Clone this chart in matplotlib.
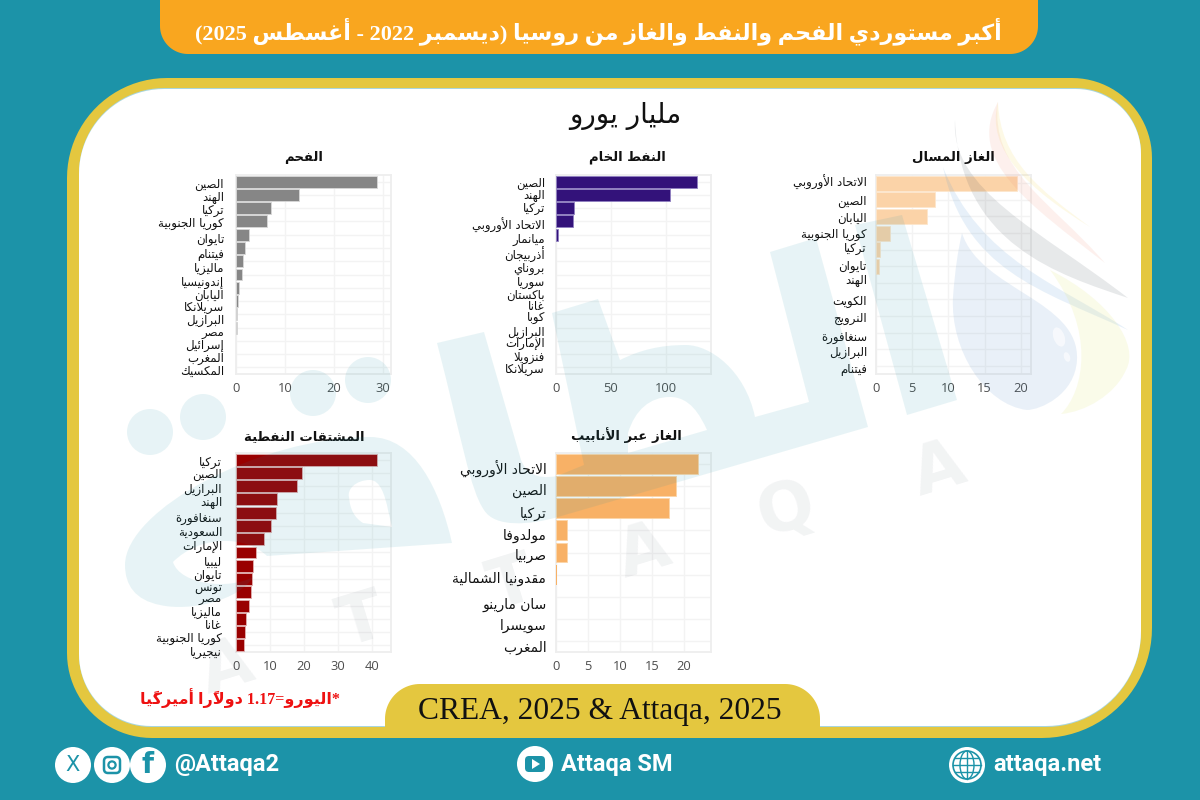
import matplotlib
matplotlib.use("Agg")
import matplotlib.pyplot as plt
from matplotlib.path import Path
from matplotlib.patches import PathPatch, Circle, Ellipse, Polygon, FancyBboxPatch
from matplotlib.transforms import Affine2D
import numpy as np

# ---------- data ----------
coal_countries = ["الصين","الهند","تركيا","كوريا الجنوبية","تايوان","فيتنام","ماليزيا","إندونيسيا","اليابان","سريلانكا","البرازيل","مصر","إسرائيل","المغرب","المكسيك"]
coal_values = [28.8,12.9,7.2,6.3,2.6,1.8,1.5,1.3,0.55,0.5,0.25,0.2,0.05,0.03,0.02]
crude_countries = ["الصين","الهند","تركيا","الاتحاد الأوروبي","ميانمار","أذربيجان","بروناي","سوريا","باكستان","غانا","كوبا","البرازيل","الإمارات","فنزويلا","سريلانكا"]
crude_values = [128,103.6,16,15.5,1.8,0.1,0.1,0.1,0.05,0.05,0.05,0.03,0.03,0.02,0.02]
lng_countries = ["الاتحاد الأوروبي","الصين","اليابان","كوريا الجنوبية","تركيا","تايوان","الهند","الكويت","النرويج","سنغافورة","البرازيل","فيتنام"]
lng_values = [19.5,8.15,7.0,2.0,0.55,0.35,0.05,0.02,0.02,0.02,0.01,0.01]
products_countries = ["تركيا","الصين","البرازيل","الهند","سنغافورة","السعودية","الإمارات","ليبيا","تايوان","تونس","مصر","ماليزيا","غانا","كوريا الجنوبية","نيجيريا"]
products_values = [41.7,19.6,18.1,12.1,11.7,10.3,8.4,5.8,5.0,4.6,4.3,3.7,3.0,2.6,2.4]
pipeline_countries = ["الاتحاد الأوروبي","الصين","تركيا","مولدوفا","صربيا","مقدونيا الشمالية","سان مارينو","سويسرا","المغرب"]
pipeline_values = [22.1,18.7,17.65,1.77,1.77,0.08,0.01,0.01,0.01]

main_title = "أكبر مستوردي الفحم والنفط والغاز من روسيا (ديسمبر 2022 - أغسطس 2025)"
unit_title = "مليار يورو"
note_text = "*اليورو=1.17 دولارًا أميركيًا"
source_text = "CREA, 2025 & Attaqa, 2025"

# ---------- simple Arabic shaping (matplotlib does not shape) ----------
_F = {'ء':(0xFE80,),'آ':(0xFE81,0xFE82),'أ':(0xFE83,0xFE84),'ؤ':(0xFE85,0xFE86),'إ':(0xFE87,0xFE88),
      'ا':(0xFE8D,0xFE8E),'ة':(0xFE93,0xFE94),'د':(0xFEA9,0xFEAA),'ذ':(0xFEAB,0xFEAC),'ر':(0xFEAD,0xFEAE),
      'ز':(0xFEAF,0xFEB0),'و':(0xFEED,0xFEEE),'ى':(0xFEEF,0xFEF0)}
for _c,_b in zip("ئبتثجحخسشصضطظعغفقكلمنهي",
                 [0xFE89,0xFE8F,0xFE95,0xFE99,0xFE9D,0xFEA1,0xFEA5,0xFEB1,0xFEB5,0xFEB9,0xFEBD,0xFEC1,0xFEC5,0xFEC9,0xFECD,0xFED1,0xFED5,0xFED9,0xFEDD,0xFEE1,0xFEE5,0xFEE9,0xFEF1]):
    _F[_c]=(_b,_b+1,_b+2,_b+3)
_LA = {'ا':(0xFEFB,0xFEFC),'أ':(0xFEF7,0xFEF8),'إ':(0xFEF9,0xFEFA),'آ':(0xFEF5,0xFEF6)}
_MARKS = "\u064B\u064C\u064D\u064E\u064F\u0650\u0651\u0652"
_MIRROR = {'(':')',')':'('}

def ar(s):
    cl=[]
    for ch in s:
        if ch in _MARKS and cl: cl[-1][1]+=ch
        else: cl.append([ch,""])
    out=[]; i=0
    prev_joins=False
    n=len(cl)
    while i<n:
        c,m=cl[i]
        if c in _F:
            if c=='ل' and i+1<n and cl[i+1][0] in _LA:
                f=_LA[cl[i+1][0]]
                out.append(chr(f[1] if prev_joins else f[0])+m+cl[i+1][1])
                prev_joins=False; i+=2; continue
            forms=_F[c]
            nxt=cl[i+1][0] if i+1<n else ''
            next_ok = nxt in _F and nxt!='ء'
            if len(forms)==4:
                if prev_joins and next_ok: g=forms[3]
                elif prev_joins: g=forms[1]
                elif next_ok: g=forms[2]
                else: g=forms[0]
                prev_joins=next_ok
            elif len(forms)==2:
                g=forms[1] if prev_joins else forms[0]
                prev_joins=False
            else:
                g=forms[0]; prev_joins=False
            out.append(chr(g)+m)
        else:
            out.append(_MIRROR.get(c,c)+m)
            prev_joins=False
        i+=1
    res=[]; run=[]
    for g in reversed(out):
        if g.isdigit() or (g=='.' and run):
            run.append(g)
        else:
            if run: res.extend(reversed(run)); run=[]
            res.append(g)
    if run: res.extend(reversed(run))
    return "".join(res)

# ---------- figure ----------
W,H=1200,800
TEAL="#1c93a8"; GOLD="#e4c73f"; ORANGE="#f9a61f"
fig=plt.figure(figsize=(W/100,H/100),dpi=100,facecolor=TEAL)

def layer(z):
    a=fig.add_axes([0,0,1,1],zorder=z)
    a.set_xlim(0,W); a.set_ylim(H,0); a.axis("off"); a.patch.set_alpha(0)
    return a

def round_rect(x0,y0,x1,y1,tl,tr,br,bl):
    def arc(cx,cy,r,a0,a1):
        t=np.radians(np.linspace(a0,a1,24))
        return np.c_[cx+r*np.cos(t),cy+r*np.sin(t)]
    pts=[]
    pts.append(arc(x0+tl,y0+tl,tl,180,270) if tl else [[x0,y0]])
    pts.append(arc(x1-tr,y0+tr,tr,270,360) if tr else [[x1,y0]])
    pts.append(arc(x1-br,y1-br,br,0,90) if br else [[x1,y1]])
    pts.append(arc(x0+bl,y1-bl,bl,90,180) if bl else [[x0,y1]])
    return np.vstack(pts)

back=layer(0)
back.add_patch(Polygon(round_rect(67,78,1152,738,100,80,110,85),closed=True,fc=GOLD,ec="none"))
back.add_patch(Polygon(round_rect(79,88,1141,727,85,65,95,72),closed=True,fc="#a8d6de",ec="none"))
inner=Polygon(round_rect(79,89,1141,726,85,65,95,72),closed=True,fc="white",ec="none")
back.add_patch(inner)

# ---------- panels ----------
def panel(box,cats,vals,color,edge,xmax,ticks,title,title_xy,fs,pad,nudge):
    x0,y0,x1,y1=box
    ax=fig.add_axes([x0/W,1-y1/H,(x1-x0)/W,(y1-y0)/H],zorder=2)
    ax.patch.set_alpha(0)
    n=len(cats)
    ypos=np.arange(n)
    edges=[edge if v/xmax>0.006 else "none" for v in vals]
    ax.barh(ypos,vals,height=0.9,color=color,edgecolor=edges,linewidth=0.6,zorder=3)
    ax.set_xlim(0,xmax); ax.set_ylim(n-0.5,-0.5)
    ax.set_axisbelow(True)
    ax.grid(True,color="#f3f3f3",lw=1.0,zorder=0)
    for s in ax.spines.values():
        s.set_color("#eeeeee"); s.set_linewidth(1.3)
    ax.tick_params(axis="both",length=0)
    ax.tick_params(axis="y",pad=pad)
    ax.tick_params(axis="x",pad=6)
    ax.set_xticks(ticks)
    ax.set_xticklabels([str(t) for t in ticks],fontfamily="Open Sans",fontsize=9.3,color="#4d4d4d")
    ax.set_yticks(ypos)
    ax.set_yticklabels([ar(c) for c in cats],fontfamily="DejaVu Sans",fontsize=fs,color="#111111")
    for t,d in zip(ax.yaxis.get_major_ticks(),nudge):
        t.label1.set_transform(t.label1.get_transform()+Affine2D().translate(0,-d))
    back.text(title_xy[0],title_xy[1],ar(title),ha="center",va="center",fontfamily="DejaVu Sans",
              fontweight="bold",fontsize=9.5,color="#111111")
    return ax

panel((236,175,391,374),coal_countries,coal_values,"#868686","#d8d8d8",31.6,[0,10,20,30],"الفحم",(304,157),8.5,8.6,
      [1,1,1,1,3,5,6,6,6,5,4.5,4,3,3,3])
panel((556,175,711,374),crude_countries,crude_values,"#33127a","#8f7fc0",141,[0,50,100],"النفط الخام",(627,157),8.4,8,
      [0,-1,-1,2,3,5,6,6,6,4,2,3,1,2,1])
panel((876,175,1031,374),lng_countries,lng_values,"#fbd3a8","#fde6cc",21.4,[0,5,10,15,20],"الغاز المسال",(953,157),8.5,6.5,
      [-2,0,0,0,-3,-1,-4,1,1,3,2,2])
panel((236,453,391,652),products_countries,products_values,"#990000","#e0b0b0",45.7,[0,10,20,30,40],"المشتقات النفطية",(304,437),8.6,10,
      [1,0,2,2,4,5,6,8,8,8,6,5,5,5,6])
panel((556,453,711,652),pipeline_countries,pipeline_values,"#f8b166","#fbd5a8",24.2,[0,5,10,15,20],"الغاز عبر الأنابيب",(626,435),10,7,
      [3,3,4,4,2,3,7,5,5])

back.text(625,116,ar(unit_title),ha="center",va="center",fontfamily="DejaVu Sans",fontsize=20,color="#111111")
back.text(240,698,ar(note_text),ha="center",va="center",fontfamily=["Liberation Serif","DejaVu Sans"],fontweight="bold",fontsize=11.5,color="#ee1111")

# ---------- watermark (over the charts, translucent) ----------
wm=layer(3)
wt=dict(fc=TEAL,ec="none",alpha=0.10)
def poly(pts,**k):
    p=Polygon(pts,closed=True,**k); wm.add_patch(p); p.set_clip_path(inner); return p
def bez(verts,**k):
    codes=[Path.MOVETO]+[Path.CURVE4]*(len(verts)-1)
    p=PathPatch(Path(verts,codes),**k); wm.add_patch(p); p.set_clip_path(inner); return p
def shape(*subpaths,**k):
    V=[];C=[]
    for sp in subpaths:
        V.append(sp[0]);C.append(Path.MOVETO)
        for seg in sp[1:]:
            if len(seg)==3:
                V.extend(seg);C.extend([Path.CURVE4]*3)
            else:
                V.append(seg);C.append(Path.LINETO)
        V.append(sp[0]);C.append(Path.CLOSEPOLY)
    p=PathPatch(Path(V,C),**k); wm.add_patch(p); p.set_clip_path(inner); return p
for c in [(150,432),(203,417),(313,393),(368,380)]:
    wm.add_patch(Circle(c,23,**wt))
shape([(125,565),[(125,510),(260,437),(370,437)],[(415,437),(440,490),(452,543)],(267,556),
       [(245,535),(200,535),(173,562)],[(180,585),(230,590),(253,577)],[(240,600),(190,612),(160,605)],[(135,600),(125,585),(125,565)]],
      [(370,480),[(355,480),(347,490),(349,497)],[(350,510),(355,518),(363,523)],(392,527),(388,510),[(385,495),(380,480),(370,480)]],**wt)
shape([(437,343),(484,332),(521,460),[(526,472),(535,480),(557,476)],(584,465),(552,313),(598,299),(620,360),
       [(640,350),(660,345),(686,345)],[(710,345),(745,370),(755,417)],(809,402),(770,252),(816,238),(868,427),(558,517),
       [(530,525),(495,528),(484,510)],[(470,490),(462,440),(437,343)]],
      [(707,430),[(700,415),(690,397),(670,397)],[(650,397),(635,410),(628,433)],(628,453)],**wt)
poly([(855,225),(902,215),(957,400),(907,415)],**wt)
lt=dict(fontfamily="DejaVu Sans",fontweight="bold",fontsize=48,color="#4a5a68",alpha=0.07,rotation=17,ha="center",va="center")
for (x,y,ch) in [(227,668,"A"),(362,622,"T"),(512,585,"T"),(644,552,"A"),(786,510,"Q"),(939,470,"A")]:
    wm.text(x,y,ch,**lt)
bez([(998,102),(985,150),(1030,190),(1090,227),(1040,190),(1000,160),(998,102)],fc="#f6d95a",ec="none",alpha=0.15)
bez([(998,102),(965,160),(1030,205),(1105,263),(1050,200),(990,170),(998,102)],fc="#f0907a",ec="none",alpha=0.13)
bez([(955,120),(950,190),(1040,230),(1128,298),(1060,275),(960,245),(955,120)],fc="#4a5560",ec="none",alpha=0.13)
bez([(943,167),(965,270),(1040,290),(1128,330),(1060,285),(980,260),(943,167)],fc="#5b9bd5",ec="none",alpha=0.14)
bez([(1050,270),(1110,300),(1140,345),(1126,370),(1115,395),(1085,412),(1061,414),(1085,390),(1095,330),(1050,270)],fc="#e6ea8a",ec="none",alpha=0.18)
bez([(962,233),(980,290),(1080,300),(1077,360),(1075,395),(1040,410),(1027,410),(985,405),(950,350),(953,297),(955,270),(958,250),(962,233)],
    fc="#3f7fc0",ec="none",alpha=0.11)
wm.add_patch(Ellipse((1059,337),11,20,angle=-20,fc="white",ec="none",alpha=0.6))
wm.add_patch(Ellipse((1067,357),6,10,angle=-20,fc="white",ec="none",alpha=0.6))

# ---------- top layer: tabs and footer ----------
top=layer(4)
top.add_patch(Polygon(round_rect(160,-40,1038,54,0,0,28,28),closed=True,fc=ORANGE,ec="none"))
top.text(598,31,ar(main_title),ha="center",va="center",color="white",fontfamily=["Liberation Serif","DejaVu Sans"],fontweight="bold",fontsize=16)
top.add_patch(Polygon(round_rect(385,684,820,760,35,35,0,0),closed=True,fc=GOLD,ec="none"))
top.add_patch(Polygon([(60,738),(1160,738),(1160,800),(60,800)],closed=True,fc=TEAL,ec="none"))
top.text(600,711,source_text,ha="center",va="center",fontfamily="Liberation Serif",fontsize=22.7,color="#111111")

ft=dict(fontfamily="Roboto",fontweight="bold",fontsize=17,color="white",va="center")
fy=765
for cx in (73,112,148):
    top.add_patch(Circle((cx,fy),18,fc="white",ec="none"))
top.text(73,fy,"X",ha="center",va="center",fontfamily="DejaVu Sans",fontsize=15,color=TEAL)
top.add_patch(FancyBboxPatch((104,fy-8),16,16,boxstyle="round,pad=0,rounding_size=4",fc="none",ec=TEAL,lw=1.8))
top.add_patch(Circle((112,fy),3.6,fc="none",ec=TEAL,lw=1.6))
top.text(148,fy,"f",ha="center",va="center",fontfamily="DejaVu Sans",fontweight="bold",fontsize=20,color=TEAL)
top.text(174,fy,"@Attaqa2",ha="left",**ft)
top.add_patch(Circle((535,fy-1),18,fc="white",ec="none"))
top.add_patch(FancyBboxPatch((525,fy-9),20,16,boxstyle="round,pad=0,rounding_size=4",fc=TEAL,ec="none"))
top.add_patch(Polygon([(532,fy-6),(532,fy+4),(540,fy-1)],closed=True,fc="white",ec="none"))
top.text(561,fy,"Attaqa SM",ha="left",**ft)
top.add_patch(Circle((967,fy),18,fc="white",ec="none"))
top.add_patch(Circle((967,fy),14,fc="none",ec=TEAL,lw=1.2))
top.add_patch(Ellipse((967,fy),14,28,fc="none",ec=TEAL,lw=1.0))
for dy,half in [(0,14),(-7,12),(7,12)]:
    top.plot([967-half,967+half],[fy+dy,fy+dy],color=TEAL,lw=1.0)
top.plot([967,967],[fy-14,fy+14],color=TEAL,lw=1.0)
top.text(993,fy,"attaqa.net",ha="left",**ft)
top.set_xlim(0,W); top.set_ylim(H,0)

fig.savefig("out.png",dpi=100,facecolor=TEAL)
